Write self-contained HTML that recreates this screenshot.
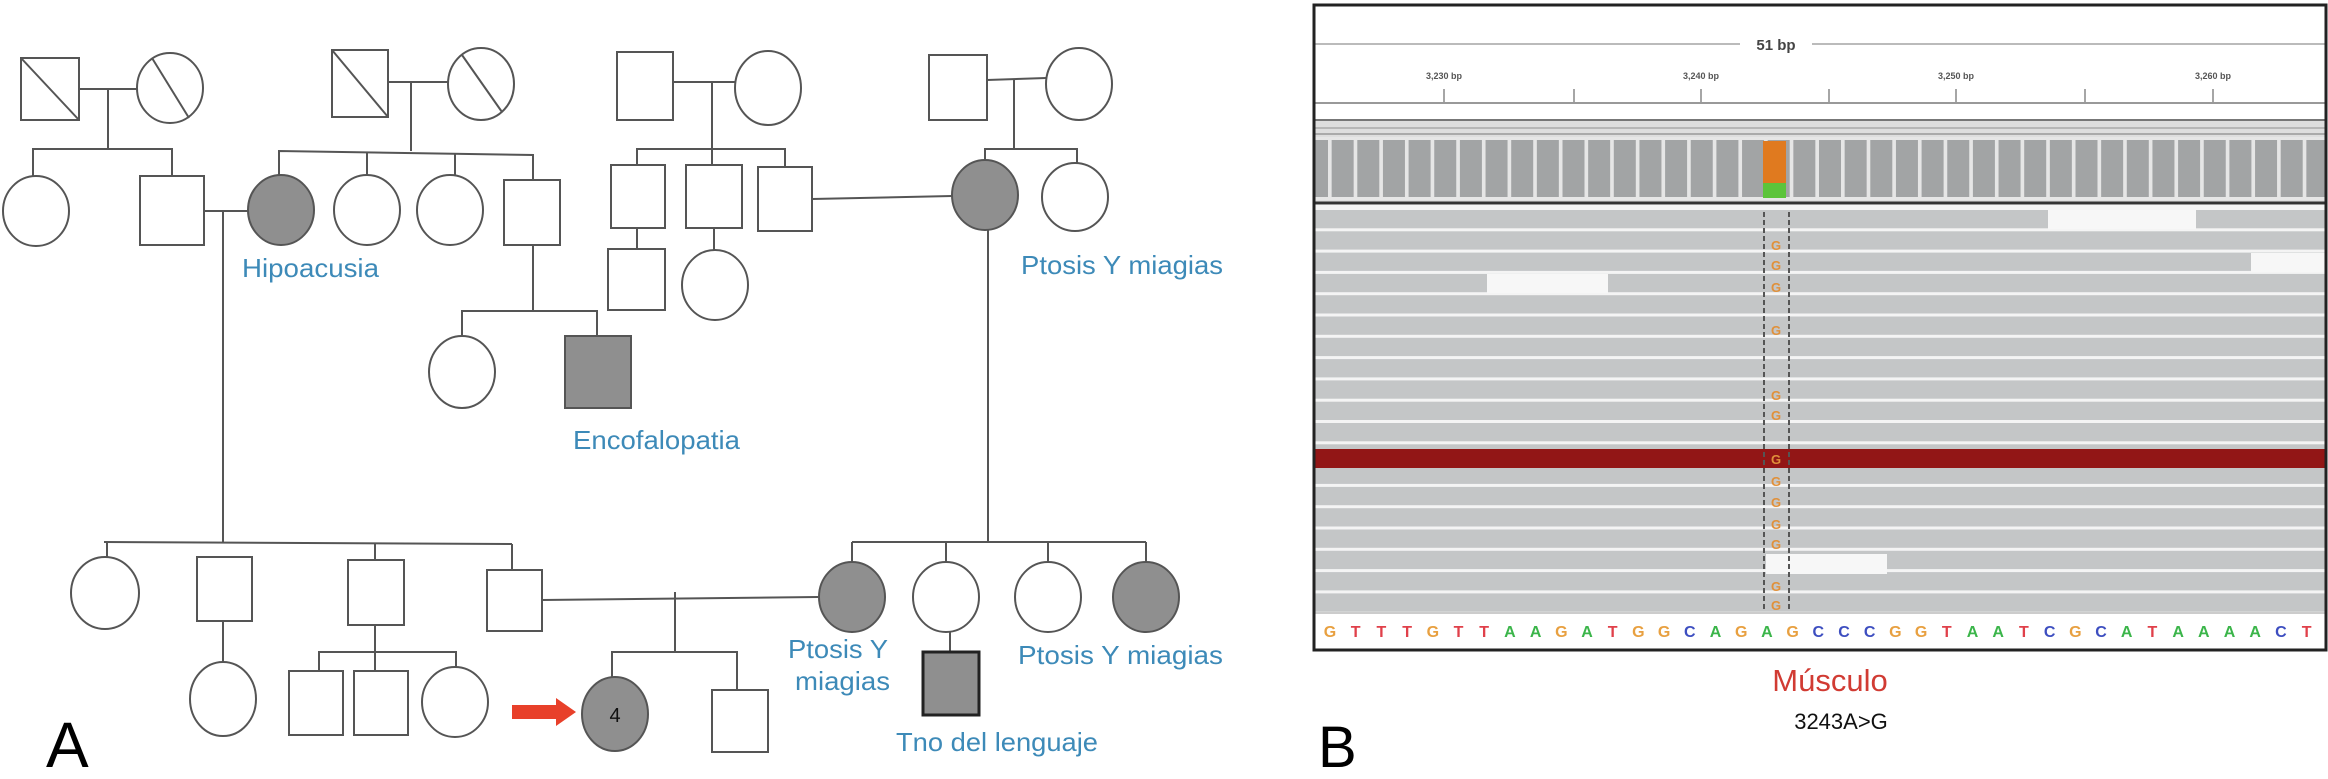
<!DOCTYPE html>
<html><head><meta charset="utf-8"><style>
html,body{margin:0;padding:0;background:#fff;}
svg{display:block;}
.l{stroke:#555;stroke-width:2;fill:none;}
.s{stroke:#555;stroke-width:2;fill:#fff;}
.f{stroke:#555;stroke-width:2;fill:#8f8f8f;}
.t{font-family:"Liberation Sans",sans-serif;fill:#3d8ab8;font-size:26px;}
</style></head><body>
<svg id="sv" width="2328" height="779" viewBox="0 0 2328 779" xmlns="http://www.w3.org/2000/svg">
<rect class="s" x="21" y="58" width="58" height="62"/><line class="l" x1="21" y1="58" x2="79" y2="120"/>
<ellipse class="s" cx="170" cy="88" rx="33" ry="35"/><line class="l" x1="152" y1="58" x2="189" y2="118"/>
<line class="l" x1="79" y1="89" x2="137" y2="89"/><line class="l" x1="108" y1="89" x2="108" y2="149"/>
<polyline class="l" points="33,176 33,149 172,149 172,176"/>
<ellipse class="s" cx="36" cy="211" rx="33" ry="35"/>
<rect class="s" x="140" y="176" width="64" height="69"/>
<rect class="s" x="332" y="50" width="56" height="67"/><line class="l" x1="332" y1="50" x2="388" y2="117"/>
<ellipse class="s" cx="481" cy="84" rx="33" ry="36"/><line class="l" x1="462" y1="55" x2="502" y2="112"/>
<line class="l" x1="388" y1="82" x2="448" y2="82"/><line class="l" x1="411" y1="82" x2="411" y2="151"/>
<polyline class="l" points="279,176 279,151 533,155 533,180"/>
<line class="l" x1="367" y1="152" x2="367" y2="176"/><line class="l" x1="455" y1="153" x2="455" y2="176"/>
<ellipse class="f" cx="281" cy="210" rx="33" ry="35"/>
<ellipse class="s" cx="367" cy="210" rx="33" ry="35"/>
<ellipse class="s" cx="450" cy="210" rx="33" ry="35"/>
<rect class="s" x="504" y="180" width="56" height="65"/>
<line class="l" x1="204" y1="211" x2="248" y2="211"/><line class="l" x1="223" y1="211" x2="223" y2="542"/>
<text class="t" x="242" y="277" textLength="137" lengthAdjust="spacingAndGlyphs">Hipoacusia</text>
<line class="l" x1="533" y1="245" x2="533" y2="311"/>
<polyline class="l" points="462,335 462,311 597,311 597,336"/>
<ellipse class="s" cx="462" cy="372" rx="33" ry="36"/>
<rect class="f" x="565" y="336" width="66" height="72"/>
<text class="t" x="573" y="449" textLength="167" lengthAdjust="spacingAndGlyphs">Encofalopatia</text>
<rect class="s" x="617" y="52" width="56" height="68"/>
<ellipse class="s" cx="768" cy="88" rx="33" ry="37"/>
<line class="l" x1="673" y1="82" x2="735" y2="82"/><line class="l" x1="712" y1="82" x2="712" y2="165"/>
<polyline class="l" points="637,165 637,149 785,149 785,167"/>
<rect class="s" x="611" y="165" width="54" height="63"/>
<rect class="s" x="686" y="165" width="56" height="63"/>
<rect class="s" x="758" y="167" width="54" height="64"/>
<line class="l" x1="637" y1="228" x2="637" y2="249"/><rect class="s" x="608" y="249" width="57" height="61"/>
<line class="l" x1="714" y1="228" x2="714" y2="250"/><ellipse class="s" cx="715" cy="285" rx="33" ry="35"/>
<line class="l" x1="812" y1="199" x2="952" y2="196"/>
<rect class="s" x="929" y="55" width="58" height="65"/>
<ellipse class="s" cx="1079" cy="84" rx="33" ry="36"/>
<line class="l" x1="987" y1="80" x2="1046" y2="78"/><line class="l" x1="1014" y1="80" x2="1014" y2="149"/>
<polyline class="l" points="985,162 985,149 1077,149 1077,165"/>
<ellipse class="f" cx="985" cy="195" rx="33" ry="35"/>
<ellipse class="s" cx="1075" cy="197" rx="33" ry="34"/>
<text class="t" x="1021" y="274" textLength="202" lengthAdjust="spacingAndGlyphs">Ptosis Y miagias</text>
<line class="l" x1="988" y1="230" x2="988" y2="542"/>
<line class="l" x1="104" y1="542" x2="512" y2="544"/>
<line class="l" x1="107" y1="542" x2="107" y2="557"/><line class="l" x1="375" y1="543" x2="375" y2="560"/><line class="l" x1="512" y1="544" x2="512" y2="570"/>
<ellipse class="s" cx="105" cy="593" rx="34" ry="36"/>
<rect class="s" x="197" y="557" width="55" height="64"/>
<rect class="s" x="348" y="560" width="56" height="65"/>
<rect class="s" x="487" y="570" width="55" height="61"/>
<line class="l" x1="223" y1="621" x2="223" y2="662"/><ellipse class="s" cx="223" cy="699" rx="33" ry="37"/>
<line class="l" x1="375" y1="625" x2="375" y2="671"/>
<polyline class="l" points="319,671 319,652 456,652 456,667"/>
<rect class="s" x="289" y="671" width="54" height="64"/>
<rect class="s" x="354" y="671" width="54" height="64"/>
<ellipse class="s" cx="455" cy="702" rx="33" ry="35"/>
<line class="l" x1="542" y1="600" x2="818" y2="597"/>
<line class="l" x1="675" y1="592" x2="675" y2="652"/>
<polyline class="l" points="612,677 612,652 737,652 737,690"/>
<ellipse class="f" cx="615" cy="714" rx="33" ry="37"/>
<text x="615" y="722" text-anchor="middle" font-family="Liberation Sans,sans-serif" font-size="20" fill="#111">4</text>
<rect class="s" x="712" y="690" width="56" height="62"/>
<polygon points="512,705 556,705 556,698 576,712 556,726 556,719 512,719" fill="#e8402a"/>
<line class="l" x1="852" y1="542" x2="1146" y2="542"/>
<line class="l" x1="852" y1="542" x2="852" y2="562"/><line class="l" x1="946" y1="542" x2="946" y2="562"/><line class="l" x1="1048" y1="542" x2="1048" y2="562"/><line class="l" x1="1146" y1="542" x2="1146" y2="562"/>
<ellipse class="f" cx="852" cy="597" rx="33" ry="35"/>
<ellipse class="s" cx="946" cy="597" rx="33" ry="35"/>
<ellipse class="s" cx="1048" cy="597" rx="33" ry="35"/>
<ellipse class="f" cx="1146" cy="597" rx="33" ry="35"/>
<line class="l" x1="950" y1="632" x2="950" y2="652"/>
<rect x="923" y="652" width="56" height="63" fill="#8f8f8f" stroke="#222" stroke-width="3"/>
<text class="t" x="788" y="658" textLength="100" lengthAdjust="spacingAndGlyphs">Ptosis Y</text>
<text class="t" x="795" y="690" textLength="95" lengthAdjust="spacingAndGlyphs">miagias</text>
<text class="t" x="1018" y="664" textLength="205" lengthAdjust="spacingAndGlyphs">Ptosis Y miagias</text>
<text class="t" x="896" y="751" textLength="202" lengthAdjust="spacingAndGlyphs">Tno del lenguaje</text>
<text x="46" y="767" font-family="Liberation Sans,sans-serif" font-size="64" fill="#000">A</text>

<g id="pb">
<rect x="1314" y="5" width="1012" height="645" fill="#fff"/>
<line x1="1315" y1="44" x2="1740" y2="44" stroke="#bbb" stroke-width="2"/>
<line x1="1812" y1="44" x2="2325" y2="44" stroke="#bbb" stroke-width="2"/>
<text x="1776" y="50" text-anchor="middle" font-family="Liberation Sans,sans-serif" font-size="15" font-weight="bold" fill="#444">51 bp</text>
<g font-family="Liberation Sans,sans-serif" font-size="9" font-weight="bold" fill="#555" text-anchor="middle">
<text x="1444" y="79">3,230 bp</text><text x="1701" y="79">3,240 bp</text><text x="1956" y="79">3,250 bp</text><text x="2213" y="79">3,260 bp</text></g>
<g stroke="#888" stroke-width="1.5">
<line x1="1444" y1="89" x2="1444" y2="103"/><line x1="1574" y1="89" x2="1574" y2="103"/><line x1="1701" y1="89" x2="1701" y2="103"/><line x1="1829" y1="89" x2="1829" y2="103"/><line x1="1956" y1="89" x2="1956" y2="103"/><line x1="2085" y1="89" x2="2085" y2="103"/><line x1="2213" y1="89" x2="2213" y2="103"/></g>
<line x1="1314" y1="103" x2="2326" y2="103" stroke="#999" stroke-width="2"/>
<rect x="1314" y="119" width="1012" height="84" fill="#dedede"/>
<line x1="1314" y1="120" x2="2326" y2="120" stroke="#777" stroke-width="2"/>
<line x1="1314" y1="128" x2="2326" y2="128" stroke="#aaa" stroke-width="1.5"/>
<line x1="1314" y1="134" x2="2326" y2="134" stroke="#999" stroke-width="1.5"/>
<g id="cov"></g>
<rect x="1763" y="141" width="23" height="42" fill="#e07a1f"/>
<rect x="1763" y="183" width="23" height="15" fill="#5cc43a"/>
<line x1="1314" y1="203" x2="2326" y2="203" stroke="#333" stroke-width="3"/>
<g id="reads"></g>
<g id="seq" font-family="Liberation Sans,sans-serif" font-size="16" font-weight="bold" text-anchor="middle"></g>
<rect x="1314" y="5" width="1012" height="645" fill="none" stroke="#222" stroke-width="3"/>
</g>
<text x="1830" y="691" text-anchor="middle" font-family="Liberation Sans,sans-serif" font-size="31" fill="#d13b33">Músculo</text>
<text x="1841" y="729" text-anchor="middle" font-family="Liberation Sans,sans-serif" font-size="22" fill="#111">3243A&gt;G</text>
<text x="1318" y="767" font-family="Liberation Sans,sans-serif" font-size="58" fill="#000">B</text>
</svg>
<script>
var NS="http://www.w3.org/2000/svg";
function el(p,n,a){var e=document.createElementNS(NS,n);for(var k in a)e.setAttribute(k,a[k]);p.appendChild(e);return e;}
var cov=document.getElementById('cov');
el(cov,'rect',{x:1314,y:137,width:1012,height:63,fill:'#e6e6e6'});
for(var x=1314-10;x<2326;x+=25.65){var x0=Math.max(1314,x+2),x1=Math.min(2326,x+24);if(x1>x0)el(cov,'rect',{x:x0,y:140,width:x1-x0,height:57,fill:'#a2a4a5'});}
var r=document.getElementById('reads');
el(r,'rect',{x:1314,y:205,width:1012,height:407,fill:'#f4f4f4'});
for(var i=0;i<19;i++){var y=210+i*21.3;el(r,'rect',{x:1314,y:y,width:1012,height:18.3,fill:'#c4c6c7'});}
el(r,'rect',{x:1314,y:449,width:1012,height:19,fill:'#921616'});
[[2048,2196,210,229],[2251,2327,253,272],[1487,1608,274,293],[1766,1887,554,574]].forEach(function(g){el(r,'rect',{x:g[0],y:g[2],width:g[1]-g[0],height:g[3]-g[2],fill:'#f7f7f7'});});
el(r,'line',{x1:1764,y1:212,x2:1764,y2:610,stroke:'#555','stroke-width':2,'stroke-dasharray':'5,3'});
el(r,'line',{x1:1789,y1:212,x2:1789,y2:610,stroke:'#555','stroke-width':2,'stroke-dasharray':'5,3'});
[245,265,287,330,395,415,459,481,502,524,544,586,605].forEach(function(y){var t=el(r,'text',{x:1776,y:y+5,'text-anchor':'middle','font-family':'Liberation Sans,sans-serif','font-size':13,'font-weight':'bold',fill:'#e0903a'});t.textContent='G';});
el(r,'rect',{x:1314,y:612,width:1012,height:36,fill:'#fff'});
el(r,'line',{x1:1314,y1:613,x2:2326,y2:613,stroke:'#bbb','stroke-width':1.5});
var s='GTTTGTTAAGATGGCAGAGCCCGGTAATCGCATAAAACT',col={A:'#3bb54a',T:'#e0404a',G:'#e8a040',C:'#3d4ec0'};
var sq=document.getElementById('seq');
for(var j=0;j<s.length;j++){var t=el(sq,'text',{x:1330+j*25.7,y:637,fill:col[s[j]]});t.textContent=s[j];}
</script>
</body></html>
